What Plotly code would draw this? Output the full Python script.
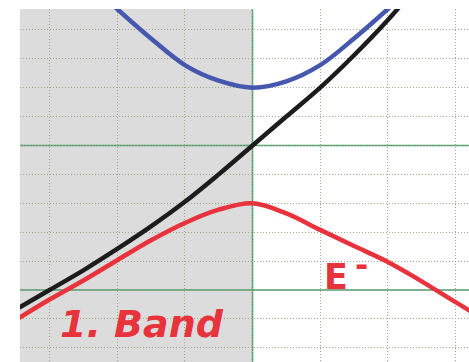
import plotly.graph_objects as go

# Wave vector samples (in grid units) and energies of each band
k_upper = [-2.5, -2.0, -1.5, -1.0, -0.5, 0.0, 0.5, 1.0, 1.5, 2.0, 2.5]
e_upper = [10.8, 9.72, 8.7, 7.78, 7.24, 7.0, 7.22, 7.78, 8.7, 9.72, 10.8]

k_free = [-3.5, -3.0, -2.5, -2.0, -1.5, -1.0, -0.5, 0.0, 0.5, 1.0, 1.5, 2.0, 2.5]
e_free = [-0.68, 0.0, 0.68, 1.42, 2.2, 3.05, 4.0, 5.0, 6.0, 7.0, 8.12, 9.34, 10.7]

k_lower = [-3.5, -3.0, -2.5, -2.0, -1.5, -1.0, -0.5, 0.0, 0.5, 1.0, 1.5, 2.0, 2.5, 3.0, 3.5]
e_lower = [-1.04, -0.33, 0.33, 1.03, 1.72, 2.32, 2.78, 3.0, 2.65, 2.08, 1.52, 0.97, 0.3, -0.42, -1.12]

x_range = [-3.436, 3.199]
y_range = [-2.49, 9.72]

fig = go.Figure()

line_style = dict(width=4.5, shape="spline", smoothing=1.0)
fig.add_trace(go.Scatter(x=k_upper, y=e_upper, mode="lines",
                         line=dict(color="#4657ae", **line_style)))
fig.add_trace(go.Scatter(x=k_free, y=e_free, mode="lines",
                         line=dict(color="#1c1c1c", **line_style)))
fig.add_trace(go.Scatter(x=k_lower, y=e_lower, mode="lines",
                         line=dict(color="#e8323c", **line_style)))

# shaded first Brillouin half-zone
fig.add_shape(type="rect", xref="x", yref="paper", x0=x_range[0], x1=0,
              y0=0, y1=1, fillcolor="#dcdcdc", line_width=0, layer="below")

# solid reference lines
axis_green = "#4f9a6c"
fig.add_shape(type="line", xref="x", yref="paper", x0=0, x1=0, y0=0, y1=1,
              line=dict(color=axis_green, width=1.5), layer="below")
for level in (0, 5):
    fig.add_shape(type="line", xref="paper", yref="y", x0=0, x1=1,
                  y0=level, y1=level,
                  line=dict(color=axis_green, width=1.5), layer="below")

fig.add_annotation(x=-1.626, y=-1.17, xref="x", yref="y", text="<b><i>1. Band</i></b>",
                   showarrow=False, font=dict(family="DejaVu Sans", size=38, color="#e8323c"),
                   xanchor="center", yanchor="middle")
fig.add_annotation(x=1.23, y=0.45, xref="x", yref="y", text="<b>E</b>",
                   showarrow=False, font=dict(family="DejaVu Sans", size=35, color="#e8323c"),
                   xanchor="center", yanchor="middle")
fig.add_annotation(x=1.61, y=0.86, xref="x", yref="y", text="<b>-</b>",
                   showarrow=False, font=dict(family="DejaVu Sans", size=32, color="#e8323c"),
                   xanchor="center", yanchor="middle")

grid = dict(showgrid=True, gridcolor="#98ab8a", gridwidth=1, griddash="1px,2px",
            showticklabels=False, ticks="", zeroline=False, showline=False,
            tick0=0, dtick=1, fixedrange=True)

fig.update_layout(
    width=469, height=362,
    margin=dict(l=20, r=0, t=9, b=0),
    paper_bgcolor="white", plot_bgcolor="white",
    showlegend=False,
    xaxis=dict(range=x_range, **grid),
    yaxis=dict(range=y_range, **grid),
)

fig.write_html("out.html", config={"displayModeBar": False})
